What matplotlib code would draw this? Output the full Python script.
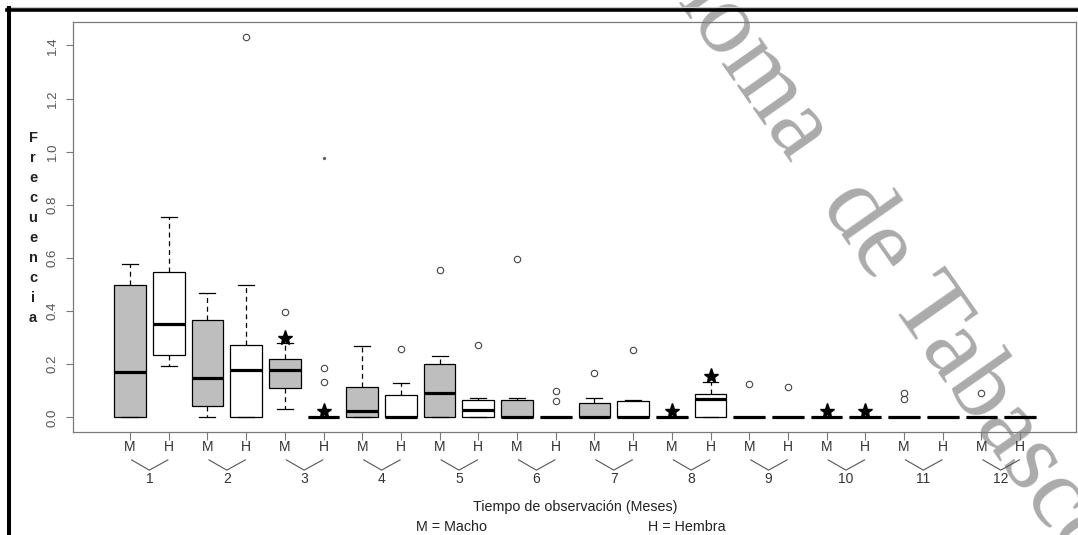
"""
Boxplot de frecuencia por sexo y mes de observación (estilo R base)
Guarda out.png
"""

import numpy as np
import matplotlib
import matplotlib.pyplot as plt
import matplotlib.transforms as mtransforms
from matplotlib.lines import Line2D

matplotlib.use("Agg")

plt.rcParams["font.family"] = ["Liberation Sans", "DejaVu Sans"]

W, H, DPI = 1078, 535, 100

# ---- data ------------------------------------------------------------------
months = list(range(1, 13))
sex_labels = ["M", "H"] * 12          # M = Macho (gris), H = Hembra (blanco)

whis_hi = [0.579, 0.755, 0.468, 0.499, 0.280, 0.0, 0.267, 0.128, 0.231, 0.074, 0.074, 0.0,
           0.074, 0.066, 0.0, 0.133, 0.0, 0.0, 0.0, 0.0, 0.0, 0.0, 0.0, 0.0]
q3 = [0.498, 0.549, 0.367, 0.273, 0.218, 0.0, 0.115, 0.085, 0.201, 0.064, 0.064, 0.0,
      0.055, 0.060, 0.0, 0.089, 0.0, 0.0, 0.0, 0.0, 0.0, 0.0, 0.0, 0.0]
medians = [0.171, 0.352, 0.148, 0.177, 0.177, 0.0, 0.025, 0.0, 0.093, 0.029, 0.0, 0.0,
           0.0, 0.0, 0.0, 0.069, 0.0, 0.0, 0.0, 0.0, 0.0, 0.0, 0.0, 0.0]
q1 = [0.0, 0.233, 0.041, 0.0, 0.109, 0.0, 0.0, 0.0, 0.0, 0.0, 0.0, 0.0,
      0.0, 0.0, 0.0, 0.0, 0.0, 0.0, 0.0, 0.0, 0.0, 0.0, 0.0, 0.0]
whis_lo = [0.0, 0.192, 0.0, 0.0, 0.030, 0.0, 0.0, 0.0, 0.0, 0.0, 0.0, 0.0,
           0.0, 0.0, 0.0, 0.0, 0.0, 0.0, 0.0, 0.0, 0.0, 0.0, 0.0, 0.0]
outliers = [[], [], [], [1.433], [0.397], [0.186, 0.132], [], [0.258], [0.556], [0.273],
            [0.595], [0.099, 0.061], [0.167], [0.252], [], [], [0.124], [0.113],
            [], [], [0.093, 0.069], [], [0.093], []]

# significance stars (box index 1..24, height)
star_pos = [5, 6, 15, 16, 19, 20]
star_val = [0.300, 0.025, 0.025, 0.155, 0.025, 0.025]

# stray dot in the original
dot_pos = [6]
dot_val = [0.977]

GRAY_BOX = "#BEBEBE"
TXT = "#333333"
AXC = "#7a7a7a"


def px_fig(x, y):
    return x / W, 1 - y / H


def main():
    fig = plt.figure(figsize=(W / DPI, H / DPI), dpi=DPI, facecolor="white")

    # watermark (behind the plot)
    wm = dict(fontsize=73, color="#ababab", rotation=-55, rotation_mode="anchor",
              fontfamily=["Liberation Serif", "DejaVu Serif"], va="baseline", zorder=-5)
    x, y = px_fig(790, 164)
    fig.text(x, y, "Autónoma", ha="right", **wm)
    x, y = px_fig(820, 204)
    fig.text(x, y, "de Tabasco", ha="left", **wm)

    # page frame
    fig.add_artist(Line2D([6 / W, 1], [1 - 7.3 / H] * 2, color="#c8c8c8", lw=0.8))
    fig.add_artist(Line2D([7 / W, 1], [1 - 10 / H] * 2, color="black", lw=2.6))
    fig.add_artist(Line2D([8.7 / W] * 2, [0, 1 - 8.3 / H], color="black", lw=2.9))

    left, right, top, bottom = 73, 1076, 22, 432
    ax = fig.add_axes([left / W, 1 - bottom / H, (right - left) / W, (bottom - top) / H])
    ax.patch.set_alpha(0)

    pos = np.arange(1, 25)
    stats = []
    for i in range(24):
        stats.append(dict(med=medians[i], q1=q1[i], q3=q3[i],
                          whislo=whis_lo[i], whishi=whis_hi[i], fliers=outliers[i]))

    bp = ax.bxp(stats, positions=pos, widths=0.82, patch_artist=True,
                boxprops=dict(edgecolor="black", linewidth=0.9),
                whiskerprops=dict(color="black", linewidth=0.9, linestyle=(0, (4, 3))),
                capprops=dict(color="black", linewidth=0.9),
                medianprops=dict(color="black", linewidth=2.3, solid_capstyle="butt"),
                flierprops=dict(marker="o", markersize=4.6, markerfacecolor="none",
                                markeredgecolor="#444444", markeredgewidth=0.8))
    for i, box in enumerate(bp["boxes"]):
        box.set_facecolor(GRAY_BOX if sex_labels[i] == "M" else "white")

    ax.plot(star_pos, star_val, linestyle="none", marker="*", markersize=11,
            color="black", zorder=5)
    ax.plot(dot_pos, dot_val, linestyle="none", marker="o", markersize=1.4,
            color="#666666", zorder=5)

    ax.set_xlim(1 - (130 - left) / 38.7, 1 + (right - 130) / 38.7)
    ax.set_ylim(-0.055, 1.488)

    ax.set_xticks(pos)
    ax.set_xticklabels(sex_labels)
    ax.set_yticks(np.arange(0, 1.41, 0.2))
    ax.set_yticklabels([f"{v:.1f}" for v in np.arange(0, 1.41, 0.2)],
                       rotation=90, va="center")
    ax.tick_params(axis="x", length=5.5, width=0.8, color=AXC, pad=0.5,
                   labelsize=10, labelcolor=TXT)
    ax.tick_params(axis="y", length=4.8, width=0.8, color=AXC, pad=5.5,
                   labelsize=9.5, labelcolor="#555555")
    for sp in ax.spines.values():
        sp.set_color(AXC)
        sp.set_linewidth(0.9)

    # month brackets and numbers under each M/H pair
    trans = mtransforms.blended_transform_factory(ax.transData, ax.transAxes)
    for m in months:
        xm, xh = 2 * m - 1, 2 * m
        ax.plot([xm + 0.04, (xm + xh) / 2, xh - 0.02], [-0.068, -0.093, -0.068],
                transform=trans, clip_on=False, color="#555555", lw=0.8)
        ax.text((xm + xh) / 2, -0.115, str(m), transform=trans, ha="center",
                va="center", fontsize=10, color=TXT)

    # axis titles
    x, y = px_fig(575, 507)
    fig.text(x, y, "Tiempo de observación (Meses)", ha="center", va="center",
             fontsize=10.3, color="#222222")
    x, y = px_fig(452, 527)
    fig.text(x, y, "M = Macho", ha="center", va="center", fontsize=10.3, color="#222222")
    x, y = px_fig(648, 527)
    fig.text(x, y, "H = Hembra", ha="left", va="center", fontsize=10.3, color="#222222")

    # stacked y label
    for i, ch in enumerate("Frecuencia"):
        x, y = px_fig(33, 142 + 20 * i)
        fig.text(x, y, ch, ha="center", va="baseline", fontsize=10.5,
                 fontweight="bold", color="#222222")

    fig.savefig("out.png", dpi=DPI, facecolor="white")
    plt.close(fig)


if __name__ == "__main__":
    main()
